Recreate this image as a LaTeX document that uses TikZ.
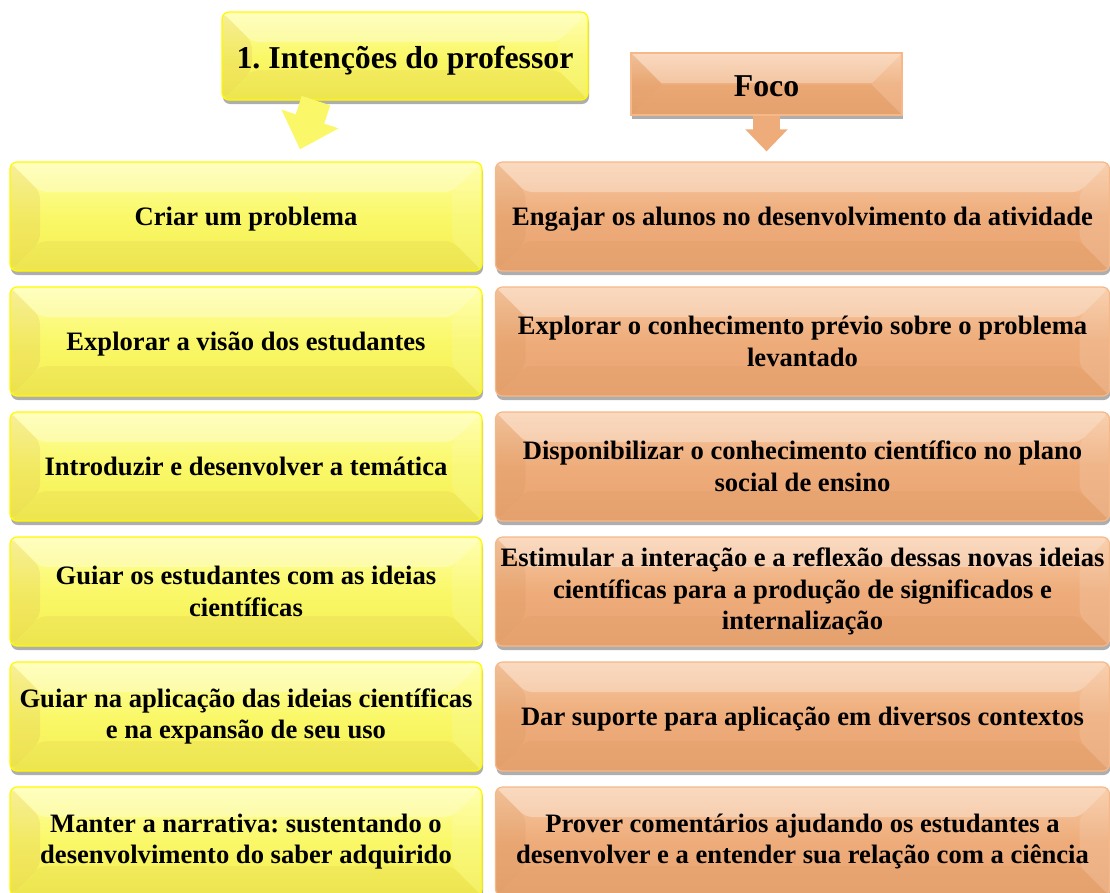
\documentclass[tikz,border=0pt]{standalone}
\usepackage{fontspec}
\setmainfont{Liberation Serif}
\usetikzlibrary{arrows.meta, positioning, calc, shadows}
\frenchspacing

\definecolor{ylwTop}{RGB}{255,255,165}
\definecolor{ylwMid}{RGB}{250,248,104}
\definecolor{ylwBot}{RGB}{242,238,80}
\definecolor{ylwLine}{RGB}{255,250,0}
\definecolor{orgTop}{RGB}{248,202,165}
\definecolor{orgMid}{RGB}{238,172,122}
\definecolor{orgBot}{RGB}{232,164,114}
\definecolor{orgLine}{RGB}{246,184,136}

\begin{document}
\begin{tikzpicture}[x=1pt, y=-1pt,
    bevel/.style={path picture={
        \fill[white,opacity=.30] (path picture bounding box.north west) -- (path picture bounding box.north east)
            -- ([shift={(-#1,-#1)}]path picture bounding box.north east) -- ([shift={(#1,-#1)}]path picture bounding box.north west) -- cycle;
        \fill[brown,opacity=.12] (path picture bounding box.north west) -- ([shift={(#1,-#1)}]path picture bounding box.north west)
            -- ([shift={(#1,#1)}]path picture bounding box.south west) -- (path picture bounding box.south west) -- cycle;
        \fill[white,opacity=.12] (path picture bounding box.north east) -- ([shift={(-#1,-#1)}]path picture bounding box.north east)
            -- ([shift={(-#1,#1)}]path picture bounding box.south east) -- (path picture bounding box.south east) -- cycle;
        \fill[brown,opacity=.08] (path picture bounding box.south west) -- ([shift={(#1,#1)}]path picture bounding box.south west)
            -- ([shift={(-#1,#1)}]path picture bounding box.south east) -- (path picture bounding box.south east) -- cycle;
    }},
    shade/.style={drop shadow={shadow xshift=1pt, shadow yshift=-4pt, opacity=.45, fill=black!70}},
    intbox/.style={draw=ylwLine, line width=1.2pt, rounded corners=7pt, top color=ylwTop, bottom color=ylwBot, middle color=ylwMid,
        shade, bevel=30pt, align=center, minimum width=472pt, minimum height=109pt, inner sep=1pt,
        font=\bfseries\fontsize{26.6}{31.5}\selectfont},
    focbox/.style={draw=orgLine, line width=1.2pt, rounded corners=7pt, top color=orgTop, bottom color=orgBot, middle color=orgMid,
        shade, bevel=30pt, align=center, minimum width=614pt, minimum height=109pt, inner sep=1pt,
        font=\bfseries\fontsize{26.6}{31.5}\selectfont},
    oneline/.style={text height=23.5pt, text depth=5.5pt},
    inthead/.style={intbox, minimum width=366pt, minimum height=88pt, text height=31pt, text depth=6.5pt,
        font=\bfseries\fontsize{31.8}{36}\selectfont},
    focohead/.style={focbox, sharp corners, minimum width=271pt, minimum height=62pt, text height=31pt, text depth=6.5pt,
        font=\bfseries\fontsize{31.8}{36}\selectfont},
    yarrow/.style={line width=30pt, draw=ylwMid, -{Triangle[width=58pt,length=32pt]}},
    farrow/.style={line width=27pt, draw=orgMid, -{Triangle[width=41pt,length=22pt]}}]

    \useasboundingbox (0,0) rectangle (1110,892);

    % Titles
    \node[inthead] (intent) at (405,56) {1. Intenções do professor};
    \node[focohead] (foco) at (766.5,84) {Foco};

    % Intentions of the teacher
    \node[intbox, oneline] (criar) at (246,216.5) {Criar um problema};
    \node[intbox, oneline] (explorar) at (246,341.5) {Explorar a visão dos estudantes};
    \node[intbox, oneline] (introduzir) at (246,466.5) {Introduzir e desenvolver a temática};
    \node[intbox] (guiarEst) at (246,591.5) {Guiar os estudantes com as ideias\\científicas};
    \node[intbox] (guiarApl) at (246,716.5) {Guiar na aplicação das ideias científicas\\e na expansão de seu uso};
    \node[intbox] (manter) at (246,841.5) {Manter a narrativa: sustentando o\\desenvolvimento do saber adquirido};

    % Focus
    \node[focbox, oneline] (engajar) at (802.5,216.5) {Engajar os alunos no desenvolvimento da atividade};
    \node[focbox] (previo) at (802.5,341.5) {Explorar o conhecimento prévio sobre o problema\\levantado};
    \node[focbox] (disponib) at (802.5,466.5) {Disponibilizar o conhecimento científico no plano\\social de ensino};
    \node[focbox] (estimular) at (802.5,591.5) {Estimular a interação e a reflexão dessas novas ideias\\científicas para a produção de significados e\\internalização};
    \node[focbox, oneline] (suporte) at (802.5,716.5) {Dar suporte para aplicação em diversos contextos};
    \node[focbox] (prover) at (802.5,841.5) {Prover comentários ajudando os estudantes a\\desenvolver e a entender sua relação com a ciência};

    % Arrows
    \coordinate (yTip) at ([xshift=54pt, yshift=12pt]criar.north);
    \draw[yarrow] ([xshift=-89pt]intent.south) -- (yTip);
    \coordinate (fTip) at ($(foco.south |- engajar.north)+(0,-10)$);
    \draw[farrow] (foco.south) -- (fTip);
\end{tikzpicture}
\end{document}
